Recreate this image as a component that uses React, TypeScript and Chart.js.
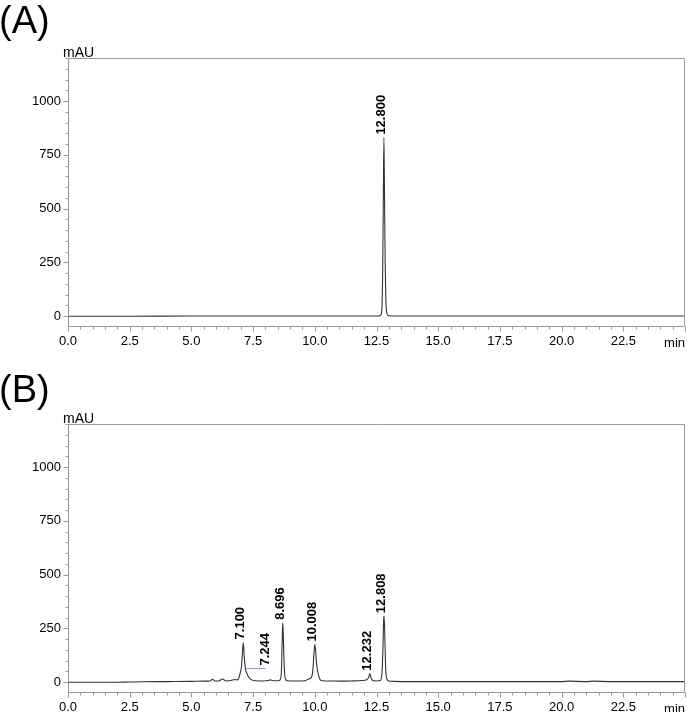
import React, { useEffect, useRef } from 'react';
import { Chart, registerables } from 'chart.js';

Chart.register(...registerables);

// ---------- data (retention time in min, absorbance in mAU) ----------
const timeA = [0, 2.5, 5, 7.5, 10, 12.0, 12.6, 12.68, 12.72, 12.75, 12.775, 12.8, 12.825, 12.85, 12.88, 12.92, 12.98, 13.1, 15, 17.5, 20, 22.5, 25];
const signalA = [0, 0, 1, 1, 1, 1, 1, 6, 40, 200, 520, 830, 560, 260, 70, 15, 3, 1, 1, 1, 1, 1, 1];

const timeB = [0, 1, 2, 2.5, 3, 4, 5, 5.5, 5.75, 5.86, 5.95, 6.1, 6.26, 6.4, 6.6, 6.76, 6.85, 6.92, 6.97, 7.02, 7.06, 7.1, 7.14, 7.19, 7.25, 7.32, 7.42, 7.6, 7.9, 8.1, 8.2, 8.3, 8.5, 8.6, 8.65, 8.68, 8.7, 8.72, 8.75, 8.78, 8.82, 8.9, 9.2, 9.6, 9.75, 9.85, 9.92, 9.97, 10.0, 10.03, 10.07, 10.12, 10.2, 10.3, 10.6, 11.0, 11.5, 11.9, 12.1, 12.18, 12.23, 12.28, 12.35, 12.5, 12.65, 12.72, 12.76, 12.79, 12.81, 12.84, 12.87, 12.92, 13.0, 13.2, 14, 16, 18, 20, 20.3, 21, 21.3, 22, 23, 25];
const signalB = [0, 0, 0, 1, 2, 3, 4, 5, 6, 14, 6, 6, 15, 6, 8, 13, 11, 20, 40, 65, 120, 185, 120, 62, 40, 24, 12, 7, 6, 8, 11, 7, 7, 12, 60, 200, 276, 230, 110, 35, 12, 7, 6, 7, 15, 20, 55, 140, 175, 150, 90, 50, 15, 7, 6, 5, 6, 8, 12, 22, 40, 20, 8, 6, 8, 40, 150, 290, 307, 200, 70, 15, 6, 4, 3, 3, 3, 3, 5, 3, 5, 3, 3, 3];

const peakTextA = ['12.800'];
const peakTimeA = [12.8];
const peakHeightA = [830];

const peakTextB = ['7.100', '7.244', '8.696', '10.008', '12.232', '12.808'];
const peakTimeB = [7.1, 8.1, 8.7, 10.0, 12.23, 12.81];
const peakHeightB = [185, 64, 276, 175, 40, 307];

const markerTimeB = [7.23, 8.0];
const markerValueB = [64, 64];

const xMin = 0;
const xMax = 25;
const xStep = 0.5;
const xLabelStep = 2.5;
const yMin = -50;
const yMax = 1200;
const yStep = 50;
const yLabelStep = 250;
const yLabelMax = 1000;
const xUnit = 'min';
const yUnit = 'mAU';

const FONT = 'Arial, "Liberation Sans", sans-serif';

const isMultiple = (v: number, step: number) => Math.abs(v / step - Math.round(v / step)) < 1e-6;

type PanelProps = {
  title: string;
  titleBaseline: number;
  times: number[];
  values: number[];
  peakText: string[];
  peakTime: number[];
  peakHeight: number[];
  markerTime?: number[];
  markerValue?: number[];
  top: number;
};

function Panel(props: PanelProps) {
  const ref = useRef<HTMLCanvasElement | null>(null);
  useEffect(() => {
    if (!ref.current) return;
    const p = props;
    const decor = {
      id: 'decor',
      afterDraw(chart: any) {
        const { ctx, chartArea } = chart;
        const { left, right, top, bottom } = chartArea;
        const xs = chart.scales.x;
        const ys = chart.scales.y;
        ctx.save();
        // frame
        ctx.strokeStyle = '#9a9a9a';
        ctx.lineWidth = 1;
        const L = Math.round(left) + 0.5;
        const R = Math.round(right) - 0.5;
        const T = Math.round(top) + 0.5;
        const B = Math.round(bottom) - 0.5;
        ctx.beginPath();
        ctx.moveTo(L, T); ctx.lineTo(R, T); ctx.lineTo(R, B); ctx.lineTo(L, B); ctx.closePath();
        ctx.stroke();
        // ticks
        ctx.beginPath();
        xs.ticks.forEach((t: any) => {
          const v = t.value;
          const px = Math.round(xs.getPixelForValue(v)) + 0.5;
          const len = isMultiple(v, xLabelStep) ? 5 : 3;
          ctx.moveTo(px, B); ctx.lineTo(px, B + len);
        });
        ys.ticks.forEach((t: any) => {
          const v = t.value;
          if (v <= yMin) return;
          const py = Math.round(ys.getPixelForValue(v)) + 0.5;
          const len = isMultiple(v, yLabelStep) ? 5 : 3;
          ctx.moveTo(L, py); ctx.lineTo(L - len, py);
        });
        ctx.stroke();
        // unit labels
        ctx.fillStyle = '#000';
        ctx.font = '14px ' + FONT;
        ctx.textAlign = 'left';
        ctx.textBaseline = 'alphabetic';
        ctx.fillText(yUnit, 63, Math.round(top) - 1);
        ctx.font = '13px ' + FONT;
        ctx.textAlign = 'right';
        ctx.fillText(xUnit, right, bottom + 20);
        // title
        ctx.font = '38px ' + FONT;
        ctx.textAlign = 'left';
        ctx.fillText(p.title, -1, p.titleBaseline);
        // peak labels
        ctx.font = 'bold 13px ' + FONT;
        p.peakText.forEach((txt, i) => {
          const px = xs.getPixelForValue(p.peakTime[i]) - 2.5;
          const py = ys.getPixelForValue(p.peakHeight[i]) - 3;
          ctx.save();
          ctx.translate(px, py);
          ctx.rotate(-Math.PI / 2);
          ctx.textAlign = 'left';
          ctx.textBaseline = 'middle';
          ctx.fillText(txt, 0, 0);
          ctx.restore();
        });
        ctx.restore();
      },
    };
    const datasets: any[] = [
      {
        data: p.times.map((t, i) => ({ x: t, y: p.values[i] })),
        borderColor: '#333333',
        borderWidth: 1.1,
        pointRadius: 0,
        fill: false,
        cubicInterpolationMode: 'monotone',
      },
    ];
    if (p.markerTime && p.markerValue) {
      datasets.push({
        data: p.markerTime.map((t, i) => ({ x: t, y: p.markerValue![i] })),
        borderColor: '#8f8ff0',
        borderWidth: 1,
        pointRadius: 0,
        fill: false,
      });
    }
    const chart = new Chart(ref.current, {
      type: 'line',
      data: { datasets },
      options: {
        animation: false,
        responsive: false,
        events: [],
        layout: { padding: { top: 58, right: 3, left: 0, bottom: 0 } },
        plugins: { legend: { display: false }, tooltip: { enabled: false }, title: { display: false } },
        scales: {
          x: {
            type: 'linear',
            min: xMin,
            max: xMax,
            afterFit: (s: any) => { s.height = 29; s.paddingLeft = 0; s.paddingRight = 0; },
            grid: { display: false, drawTicks: false },
            border: { display: false },
            ticks: {
              stepSize: xStep,
              autoSkip: false,
              maxRotation: 0,
              minRotation: 0,
              padding: 7,
              color: '#000',
              font: { family: FONT, size: 13 },
              callback: (v: any) => {
                const n = Number(v);
                if (n >= xMax) return '';
                return isMultiple(n, xLabelStep) ? n.toFixed(1) : '';
              },
            },
          },
          y: {
            type: 'linear',
            min: yMin,
            max: yMax,
            afterFit: (s: any) => { s.width = 68; s.paddingTop = 0; s.paddingBottom = 0; },
            grid: { display: false, drawTicks: false },
            border: { display: false },
            ticks: {
              stepSize: yStep,
              autoSkip: false,
              padding: 7,
              color: '#000',
              font: { family: FONT, size: 13 },
              callback: (v: any) => {
                const n = Number(v);
                return n >= 0 && n <= yLabelMax && isMultiple(n, yLabelStep) ? String(n) : '';
              },
            },
          },
        },
      } as any,
      plugins: [decor],
    });
    return () => chart.destroy();
  }, []);
  return (
    <canvas
      ref={ref}
      width={688}
      height={356}
      style={{ position: 'absolute', left: 0, top: props.top, width: 688, height: 356 }}
    />
  );
}

export default function App() {
  return (
    <div style={{ position: 'fixed', left: 0, top: 0, width: 688, height: 712, overflow: 'hidden', background: '#fff' }}>
      <Panel title="(A)" titleBaseline={33} times={timeA} values={signalA} peakText={peakTextA} peakTime={peakTimeA} peakHeight={peakHeightA} top={0} />
      <Panel title="(B)" titleBaseline={36} times={timeB} values={signalB} peakText={peakTextB} peakTime={peakTimeB} peakHeight={peakHeightB} markerTime={markerTimeB} markerValue={markerValueB} top={366} />
    </div>
  );
}
